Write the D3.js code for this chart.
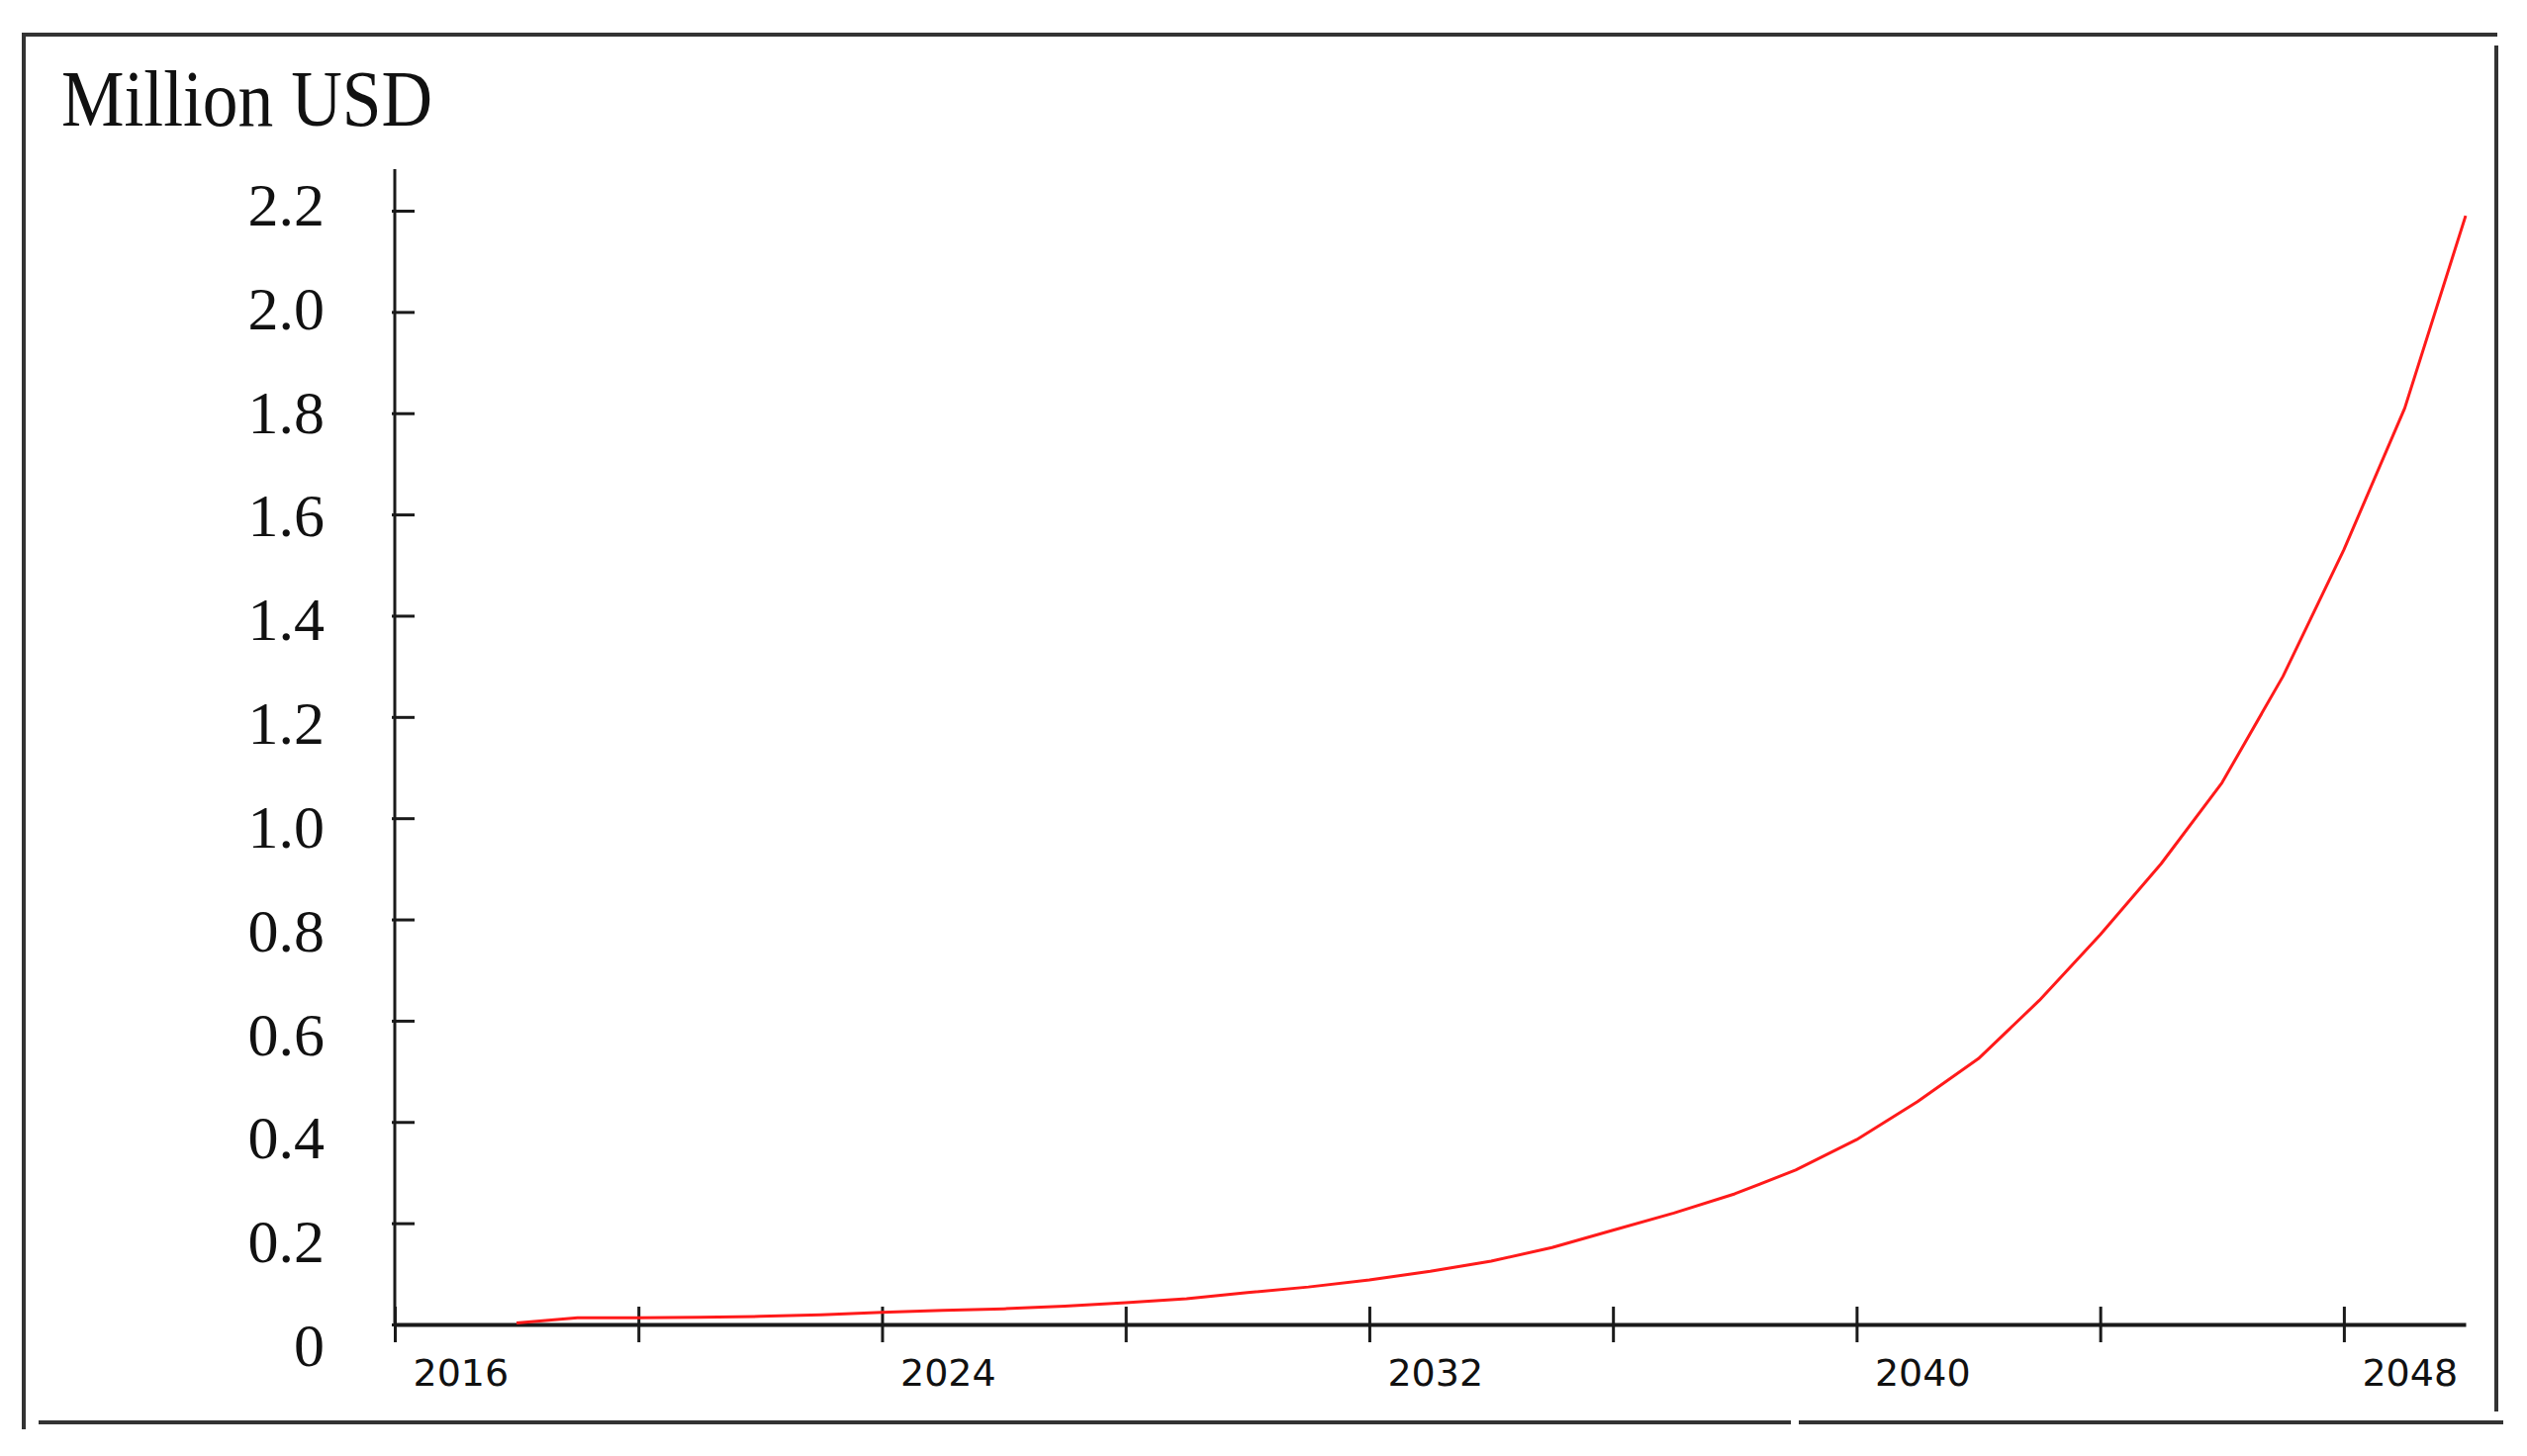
<!DOCTYPE html>
<html>
<head>
<meta charset="utf-8">
<script src="https://cdn.jsdelivr.net/npm/d3@7"></script>
<style>
    body { margin: 0; background: #fff; }
</style>
</head>
<body>
<div id="chart"></div>
<script>
// 数据：年份与数值（百万美元）
const years = [
    2018, 2019, 2020, 2021, 2022, 2023, 2024, 2025, 2026, 2027, 2028,
    2029, 2030, 2031, 2032, 2033, 2034, 2035, 2036, 2037, 2038, 2039,
    2040, 2041, 2042, 2043, 2044, 2045, 2046, 2047, 2048, 2049, 2050
];
const values = [
    0.003, 0.013, 0.013, 0.014, 0.016, 0.019, 0.024, 0.028, 0.031, 0.036, 0.043,
    0.051, 0.063, 0.074, 0.088, 0.105, 0.125, 0.152, 0.186, 0.220, 0.258, 0.305,
    0.365, 0.440, 0.525, 0.640, 0.770, 0.910, 1.070, 1.280, 1.530, 1.810, 2.190
];
// 刻度
const xTickYears = [2016, 2020, 2024, 2028, 2032, 2036, 2040, 2044, 2048];
const xLabelYears = [2016, 2024, 2032, 2040, 2048];
const yTicks = [0, 0.2, 0.4, 0.6, 0.8, 1.0, 1.2, 1.4, 1.6, 1.8, 2.0, 2.2];
const unitLabel = 'Million USD';

const WIDTH = 2554, HEIGHT = 1472;
const plot = {left: 399, right: 2492, top: 213, bottom: 1339};

const svg = d3.select('#chart')
    .append('svg')
    .attr('width', WIDTH)
    .attr('height', HEIGHT);

// 外框（底边中间有个小缺口）
const frame = svg.append('g')
    .attr('stroke', '#333')
    .attr('stroke-width', 4)
    .attr('stroke-linecap', 'square');
[
    [24, 35, 2522, 35],
    [24, 35, 24, 1443],
    [2523, 48, 2523, 1425],
    [41, 1438, 1808, 1438],
    [1820, 1438, 2528, 1438]
].forEach(s => {
    frame.append('line')
        .attr('x1', s[0]).attr('y1', s[1])
        .attr('x2', s[2]).attr('y2', s[3]);
});

// 比例尺
const x = d3.scaleLinear().domain([2016, 2050]).range([plot.left, plot.right]);
const y = d3.scaleLinear().domain([0, 2.2]).range([plot.bottom, plot.top]);
// 原图的y轴文字间距比刻度略大
const yLabelPos = d3.scaleLinear().domain([0, 2.2]).range([plot.bottom + 21, plot.top - 6]);

// 标题
svg.append('text')
    .attr('x', 62)
    .attr('y', 127)
    .attr('font-family', '"Liberation Serif", "DejaVu Serif", serif')
    .attr('font-size', 80)
    .attr('textLength', 375)
    .attr('lengthAdjust', 'spacingAndGlyphs')
    .attr('fill', '#111')
    .text(unitLabel);

// y轴
const yAxisG = svg.append('g')
    .attr('transform', `translate(${plot.left},0)`)
    .call(d3.axisLeft(y)
        .tickValues(yTicks)
        .tickSize(-20)
        .tickPadding(71)
        .tickFormat(d => d === 0 ? '0' : d.toFixed(1)));
yAxisG.select('.domain').remove();
yAxisG.append('line')
    .attr('x1', 0).attr('x2', 0)
    .attr('y1', y(0)).attr('y2', y(2.2) - 42)
    .attr('stroke', '#1a1a1a')
    .attr('stroke-width', 3);
yAxisG.selectAll('.tick line')
    .attr('x1', -3)
    .attr('stroke', '#1a1a1a')
    .attr('stroke-width', 3);
yAxisG.selectAll('.tick text')
    .attr('y', d => yLabelPos(d) - y(d))
    .attr('dy', '0.33em')
    .attr('font-family', '"Liberation Serif", "DejaVu Serif", serif')
    .attr('font-size', 62)
    .attr('fill', '#111');

// x轴
const xAxisG = svg.append('g')
    .attr('transform', `translate(0,${plot.bottom})`)
    .call(d3.axisBottom(x)
        .tickValues(xTickYears)
        .tickSize(18)
        .tickSizeOuter(0)
        .tickFormat(d => xLabelYears.includes(d) ? String(d) : ''));
xAxisG.select('.domain')
    .attr('stroke', '#1a1a1a')
    .attr('stroke-width', 4);
xAxisG.selectAll('.tick line')
    .attr('y1', -18)
    .attr('stroke', '#1a1a1a')
    .attr('stroke-width', 3);
xAxisG.selectAll('.tick text')
    .attr('x', 18)
    .attr('y', 62)
    .attr('dy', 0)
    .attr('text-anchor', 'start')
    .attr('font-family', '"DejaVu Sans", Verdana, sans-serif')
    .attr('font-size', 38)
    .attr('fill', '#111');

// 曲线
const series = years.map((yr, i) => ({year: yr, value: values[i]}));
const line = d3.line()
    .x(d => x(d.year))
    .y(d => y(d.value));
svg.append('path')
    .datum(series)
    .attr('d', line)
    .attr('fill', 'none')
    .attr('stroke', '#ff1a1a')
    .attr('stroke-width', 3)
    .attr('stroke-linejoin', 'round');
</script>
</body>
</html>
